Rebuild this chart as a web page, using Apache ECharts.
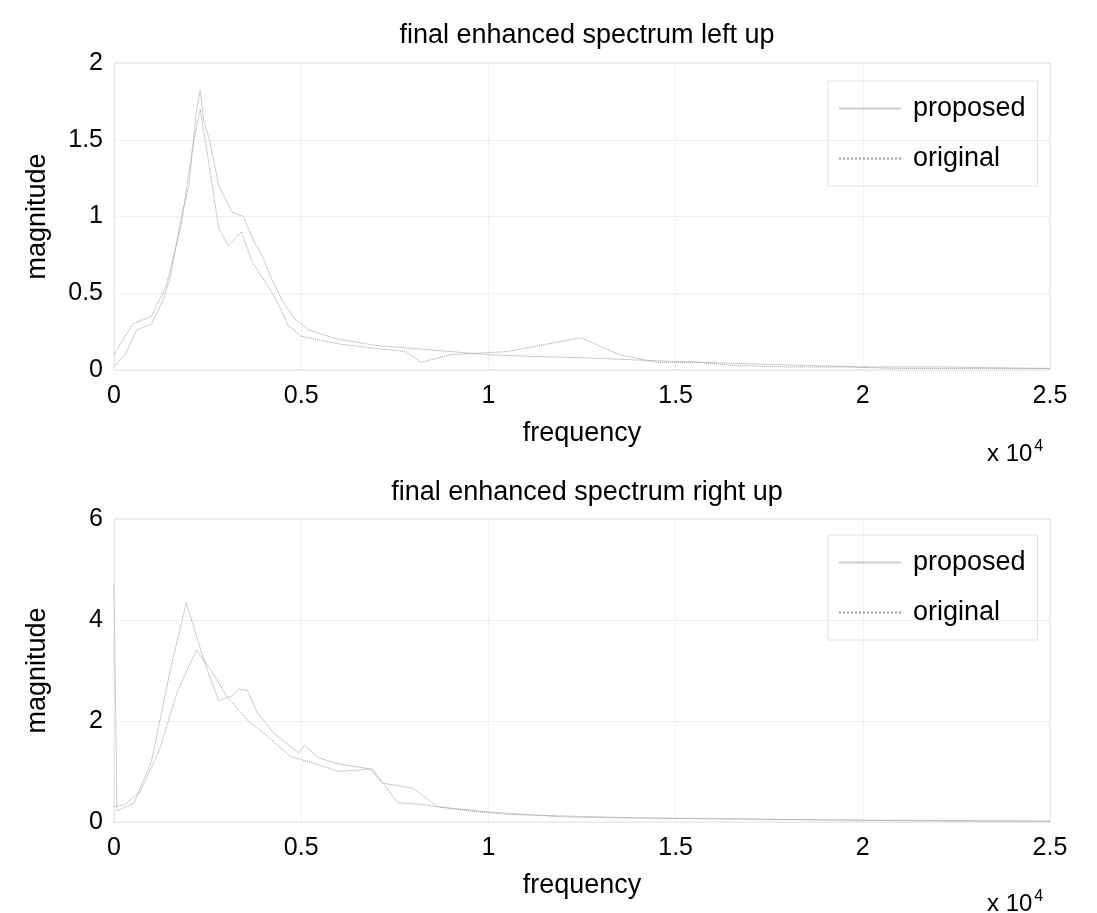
<!DOCTYPE html>
<html>
<head>
<meta charset="utf-8">
<script src="https://cdn.jsdelivr.net/npm/echarts@6/dist/echarts.min.js"></script>
<style>
html,body{margin:0;padding:0;background:#fff;}
#chart{width:1097px;height:913px;}
</style>
</head>
<body>
<div id="chart"></div>
<script>
// ---- data (frequency in Hz, magnitude) ----
const xTicks = ['0', '0.5', '1', '1.5', '2', '2.5'];
const titles = ['final enhanced spectrum left up', 'final enhanced spectrum right up'];
const seriesNames = ['proposed', 'original'];

const topPropFreq = [0, 300, 600, 1000, 1300, 1500, 1800, 2000, 2200, 2300, 2400, 2550, 2800, 3150, 3450, 3750, 3950, 4200, 4500, 4800, 5200, 6000, 7000, 8000, 9000, 10000, 11000, 12500, 14500, 15800, 17000, 18500, 20000, 22000, 25000];
const topPropMag  = [0.02, 0.1, 0.26, 0.3, 0.45, 0.6, 1.0, 1.2, 1.68, 1.82, 1.62, 1.5, 1.2, 1.03, 1.0, 0.83, 0.75, 0.6, 0.45, 0.34, 0.26, 0.2, 0.16, 0.14, 0.12, 0.1, 0.09, 0.08, 0.06, 0.05, 0.04, 0.03, 0.02, 0.02, 0.01];

const topOrigFreq = [0, 500, 1000, 1400, 1800, 2100, 2300, 2500, 2800, 3050, 3400, 3700, 4050, 4350, 4650, 5000, 6000, 7000, 7800, 8200, 9000, 10500, 12470, 13500, 14480, 15600, 16500, 18000, 19500, 21000, 23000, 25000];
const topOrigMag  = [0.1, 0.3, 0.35, 0.55, 0.95, 1.45, 1.7, 1.4, 0.92, 0.81, 0.9, 0.7, 0.57, 0.45, 0.29, 0.22, 0.17, 0.14, 0.12, 0.05, 0.1, 0.12, 0.21, 0.1, 0.05, 0.05, 0.03, 0.02, 0.02, 0.01, 0.01, 0.01];

const botPropFreq = [0, 80, 535, 1000, 1500, 1930, 2460, 2800, 3160, 3320, 3560, 3800, 4260, 4930, 5090, 5460, 6000, 6850, 7170, 7980, 8650, 10000, 11000, 12000, 14000, 16000, 18000, 20000, 22000, 25000];
const botPropMag  = [4.7, 0.22, 0.38, 1.2, 3.0, 4.34, 3.07, 2.4, 2.5, 2.63, 2.61, 2.2, 1.76, 1.37, 1.52, 1.27, 1.15, 1.05, 0.77, 0.67, 0.3, 0.2, 0.15, 0.1, 0.08, 0.06, 0.05, 0.03, 0.02, 0.01];

const botOrigFreq = [0, 300, 700, 1200, 1700, 2200, 2600, 3000, 3560, 4100, 4700, 5400, 6000, 6900, 7580, 8200, 8650, 9500, 10500, 12000, 14000, 16000, 18000, 20000, 22000, 25000];
const botOrigMag  = [0.3, 0.35, 0.6, 1.4, 2.6, 3.4, 3.0, 2.5, 2.02, 1.7, 1.3, 1.15, 1.0, 1.05, 0.38, 0.35, 0.3, 0.22, 0.15, 0.12, 0.08, 0.07, 0.05, 0.04, 0.03, 0.02];

// ---- build ----
const zip = (a, b) => a.map((v, i) => [v, b[i]]);
const FONT = 'Liberation Sans, Arial, Helvetica, sans-serif';
const FS = 25;   // tick labels
const FL = 27;   // titles, axis names, legend
const PROP_COLOR = '#cccccc';
const ORIG_COLOR = '#9c9c9c';
const chart = echarts.init(document.getElementById('chart'), null, {renderer: 'canvas'});

function xAxisCfg(gi) {
  return {
    gridIndex: gi, type: 'value', min: 0, max: 25000, interval: 5000,
    name: 'frequency', nameLocation: 'middle', nameGap: 50,
    nameTextStyle: {fontFamily: FONT, fontSize: FL, color: '#000'},
    axisLine: {show: false}, axisTick: {show: false},
    axisLabel: {fontFamily: FONT, fontSize: FS, color: '#000', margin: 14,
      formatter: v => xTicks[Math.round(v / 5000)]},
    splitLine: {show: true, lineStyle: {type: 'dotted', color: '#e4e4e4', width: 1}}
  };
}
function yAxisCfg(gi, max, interval) {
  return {
    gridIndex: gi, type: 'value', min: 0, max: max, interval: interval,
    name: 'magnitude', nameLocation: 'middle', nameGap: 63,
    nameTextStyle: {fontFamily: FONT, fontSize: FL, color: '#000'},
    axisLine: {show: false}, axisTick: {show: false},
    axisLabel: {fontFamily: FONT, fontSize: FS, color: '#000', margin: 11},
    splitLine: {show: true, lineStyle: {type: 'dotted', color: '#e4e4e4', width: 1}}
  };
}
function legendCfg(top) {
  return {
    orient: 'vertical', left: 828, top: top,
    data: seriesNames,
    itemWidth: 62, itemHeight: 24, itemGap: 23,
    padding: [14, 12, 14, 10],
    borderColor: '#e2e2e2', borderWidth: 1,
    itemStyle: {opacity: 0},
    textStyle: {fontFamily: FONT, fontSize: FL, color: '#000', padding: [0, 0, 0, 7]},
    selectedMode: false
  };
}
function line(name, gi, data) {
  const orig = name === 'original';
  const c = orig ? ORIG_COLOR : PROP_COLOR;
  return {
    name: name, type: 'line', xAxisIndex: gi, yAxisIndex: gi,
    data: data, symbol: 'none', animation: false,
    lineStyle: {type: orig ? 'dotted' : 'solid', color: c, width: 1},
    itemStyle: {color: c}
  };
}
function tenPow(top) {
  return {type: 'text', left: 987, top: top, style: {text: '{b|x 10}{s|4}', rich: {
    b: {fontFamily: FONT, fontSize: 24, fill: '#000', verticalAlign: 'bottom'},
    s: {fontFamily: FONT, fontSize: 16, fill: '#000', verticalAlign: 'top', padding: [0, 0, 11, 2]}}}};
}

chart.setOption({
  backgroundColor: '#fff',
  animation: false,
  title: [
    {text: titles[0], left: 582, top: 17, textAlign: 'center',
     textStyle: {fontFamily: FONT, fontSize: FL, fontWeight: 'normal', color: '#000'}},
    {text: titles[1], left: 582, top: 474, textAlign: 'center',
     textStyle: {fontFamily: FONT, fontSize: FL, fontWeight: 'normal', color: '#000'}}
  ],
  grid: [
    {left: 114, right: 47, top: 63, height: 307, show: true, borderColor: '#e2e2e2', borderWidth: 1},
    {left: 114, right: 47, top: 519, height: 303, show: true, borderColor: '#e2e2e2', borderWidth: 1}
  ],
  legend: [legendCfg(81), legendCfg(535)],
  xAxis: [xAxisCfg(0), xAxisCfg(1)],
  yAxis: [yAxisCfg(0, 2, 0.5), yAxisCfg(1, 6, 2)],
  series: [
    line('proposed', 0, zip(topPropFreq, topPropMag)),
    line('original', 0, zip(topOrigFreq, topOrigMag)),
    line('proposed', 1, zip(botPropFreq, botPropMag)),
    line('original', 1, zip(botOrigFreq, botOrigMag))
  ],
  graphic: [tenPow(439), tenPow(889)]
});
</script>
</body>
</html>
